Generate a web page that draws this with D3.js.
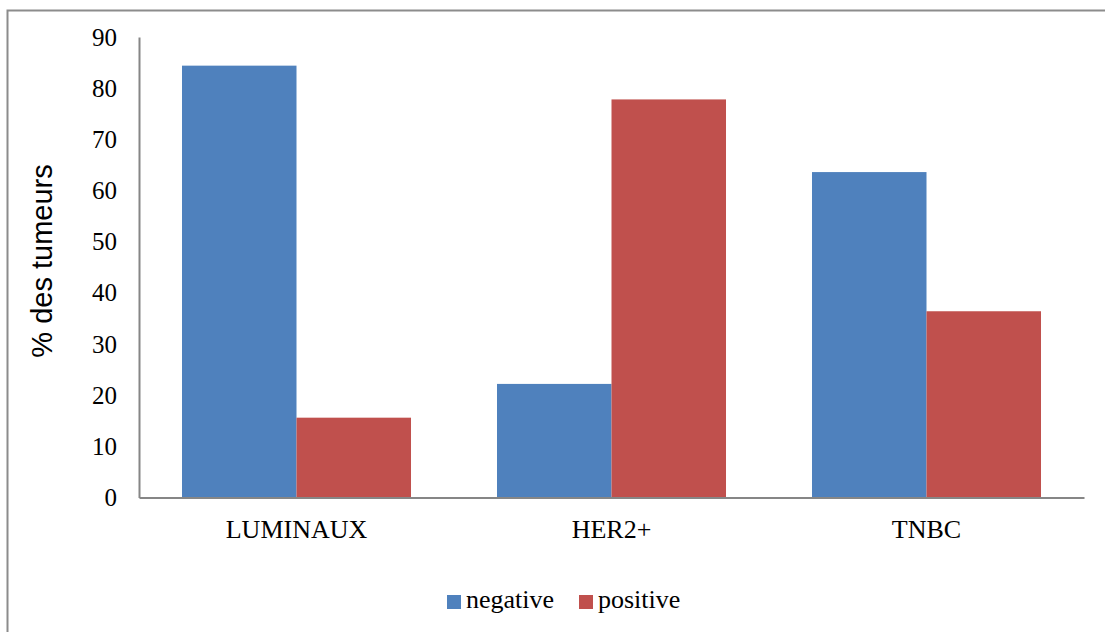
<!DOCTYPE html>
<html>
<head>
<meta charset="utf-8">
<script src="https://cdn.jsdelivr.net/npm/d3@7"></script>
<style>
  html, body { margin: 0; padding: 0; background: #fff; }
  svg { display: block; }
  .serif { font-family: "Liberation Serif", "Times New Roman", serif; }
  .sans { font-family: "Liberation Sans", Arial, sans-serif; }
</style>
</head>
<body>
<svg id="chart" width="1105" height="632"></svg>
<script>
// Share of tumours by subtype, split by marker status
const categories = ["LUMINAUX", "HER2+", "TNBC"];
const seriesNames = ["negative", "positive"];
const negativeValues = [84.4, 22.2, 63.6];
const positiveValues = [15.6, 77.8, 36.4];
const yTicks = [0, 10, 20, 30, 40, 50, 60, 70, 80, 90];
const yTitle = "% des tumeurs";

const colors = { negative: "#4F81BD", positive: "#C0504D" };

const svg = d3.select("#chart");

// Outer chart frame
svg.append("rect")
  .attr("x", 7.5).attr("y", 10.5)
  .attr("width", 1200).attr("height", 800)
  .attr("fill", "none").attr("stroke", "#8c8c8c").attr("stroke-width", 2);

const plot = { left: 139, right: 1084, top: 37, bottom: 497.5 };

const y = d3.scaleLinear().domain([0, 90]).range([plot.bottom, plot.top]);
const x0 = d3.scaleBand().domain(categories).range([plot.left, plot.right]).padding(0);
const bw = x0.bandwidth();
const gap = bw * 0.1365;
const x1 = d3.scaleBand().domain(seriesNames).range([gap, bw - gap]).padding(0);

const rows = categories.map((c, i) => ({
  category: c,
  values: [
    { key: "negative", value: negativeValues[i] },
    { key: "positive", value: positiveValues[i] }
  ]
}));

// Bars
const groups = svg.append("g").selectAll("g")
  .data(rows).join("g")
  .attr("transform", d => `translate(${x0(d.category)},0)`);

groups.selectAll("rect")
  .data(d => d.values).join("rect")
  .attr("x", d => x1(d.key))
  .attr("width", x1.bandwidth())
  .attr("y", d => y(d.value))
  .attr("height", d => y(0) - y(d.value))
  .attr("fill", d => colors[d.key]);

// Y axis
const yAxis = svg.append("g")
  .attr("transform", `translate(${plot.left},0)`)
  .call(d3.axisLeft(y).tickValues(yTicks).tickSize(0).tickPadding(22).tickFormat(d3.format("d")));
yAxis.attr("font-family", null);
yAxis.select(".domain").attr("stroke", "#868686").attr("stroke-width", 2);
yAxis.selectAll("text")
  .attr("class", "serif").style("font-size", "25px").attr("fill", "#000");

// X axis
const xAxis = svg.append("g")
  .attr("transform", `translate(0,${plot.bottom})`)
  .call(d3.axisBottom(x0).tickSize(0).tickPadding(22));
xAxis.attr("font-family", null);
xAxis.select(".domain").attr("stroke", "#868686").attr("stroke-width", 2);
xAxis.selectAll("text")
  .attr("class", "serif").style("font-size", "26px").attr("fill", "#000");

// Y axis title
svg.append("text")
  .attr("class", "sans")
  .attr("transform", "translate(52,261) rotate(-90)")
  .attr("text-anchor", "middle")
  .style("font-size", "29px").attr("fill", "#000")
  .text(yTitle);

// Legend
const legendItems = [
  { key: "negative", x: 447 },
  { key: "positive", x: 579 }
];
const legend = svg.append("g").selectAll("g")
  .data(legendItems).join("g")
  .attr("transform", d => `translate(${d.x},595)`);
legend.append("rect")
  .attr("width", 14).attr("height", 14)
  .attr("fill", d => colors[d.key]);
legend.append("text")
  .attr("class", "serif")
  .attr("x", 19).attr("y", 13)
  .style("font-size", "26px").attr("fill", "#000")
  .text(d => d.key);
</script>
</body>
</html>
